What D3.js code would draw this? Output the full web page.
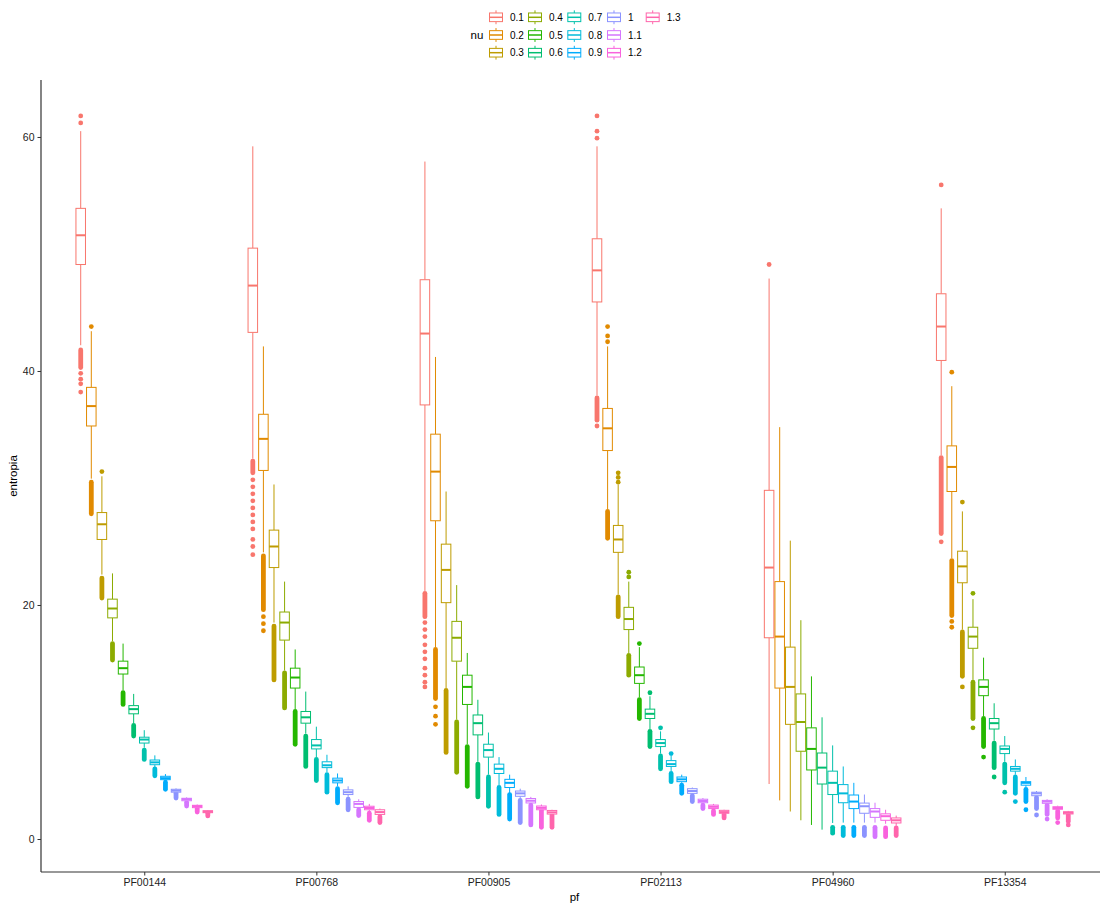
<!DOCTYPE html>
<html><head><meta charset="utf-8">
<script src="https://cdn.jsdelivr.net/npm/d3@7/dist/d3.min.js"></script>
<style>body{margin:0;background:#fff}svg{display:block;font-family:"Liberation Sans",Arial,Helvetica,sans-serif}</style>
</head><body><svg id="c" width="1100" height="905"></svg>
<script>
// ---- data ----
const pfs = ["PF00144","PF00768","PF00905","PF02113","PF04960","PF13354"];
const nus = ["0.1","0.2","0.3","0.4","0.5","0.6","0.7","0.8","0.9","1","1.1","1.2","1.3"];
const nuColors = ["#F8766D","#E18A00","#BE9C00","#8CAB00","#24B700","#00BE70","#00C1AB","#00BBDA","#00ACFC","#8B93FF","#D575FE","#F962DD","#FF65AC"];
const yTicks = [0,20,40,60];

// stats per nu: [lower whisker, q1, median, q3, upper whisker]
// outliers per nu: single values, or [a,b] = dense run of overlapping dots
const PF00144_stats = [[42.2,49.1,51.6,53.9,60.5],[30.8,35.3,37.0,38.6,43.4],[22.6,25.6,26.9,27.9,31.0],[16.9,18.9,19.7,20.5,22.7],[12.7,14.1,14.6,15.2,16.7],[9.9,10.7,11.1,11.4,12.4],[7.8,8.2,8.5,8.7,9.3],[6.1,6.35,6.55,6.75,7.15],[4.95,5.07,5.2,5.36,5.55],[3.95,4.0,4.13,4.25,4.33],[3.22,3.27,3.4,3.48,3.56],[2.65,2.68,2.8,2.88,2.95],[2.22,2.25,2.33,2.42,2.48]];
const PF00144_out = [[[40.3,41.8],39.8,39.3,38.9,38.2,61.2,61.8],[[27.8,30.5],43.8],[[20.6,22.3],31.4],[[15.3,16.7]],[[11.5,12.5]],[[8.8,9.7]],[[6.8,7.6]],[[5.4,6.0]],[[4.25,4.85]],[[3.5,3.9]],[[2.82,3.15]],[[2.3,2.6]],[[1.97,2.2]]];

const PF00768_stats = [[32.5,43.3,47.3,50.5,59.2],[24.5,31.5,34.2,36.3,42.1],[18.5,23.2,25.0,26.4,30.3],[14.4,17.0,18.5,19.4,22.0],[11.1,12.9,13.8,14.6,16.2],[9.0,9.9,10.4,10.9,12.6],[7.0,7.7,8.0,8.5,9.6],[5.7,6.1,6.3,6.6,7.2],[4.5,4.8,5.0,5.2,5.6],[3.6,3.8,4.0,4.2,4.5],[2.6,2.7,3.0,3.2,3.4],[2.3,2.5,2.65,2.8,3.0],[2.0,2.1,2.3,2.5,2.6]];
const PF00768_out = [[[31.3,32.3],30.7,30.1,29.5,28.9,28.3,27.7,27.1,26.5,25.6,25.0,24.3],[[19.6,24.2],19.0,18.4,17.8],[[13.6,18.2]],[[11.2,14.2]],[[8.1,10.9]],[[6.2,8.8]],[[5.0,6.8]],[[4.0,5.5]],[[3.1,4.3]],[[2.5,3.4]],[[2.0,2.5]],[[1.6,2.2]],[[1.4,1.9]]];

const PF00905_stats = [[21.2,37.1,43.2,47.8,57.9],[16.4,27.2,31.4,34.6,41.2],[12.9,20.2,23.0,25.2,29.7],[10.2,15.2,17.2,18.6,21.7],[8.1,11.5,13.0,14.0,15.9],[6.6,8.9,9.9,10.6,11.9],[5.5,7.0,7.6,8.1,9.1],[4.6,5.6,6.0,6.4,7.0],[3.9,4.4,4.8,5.1,5.5],[3.4,3.65,3.9,4.1,4.3],[3.0,3.08,3.27,3.46,3.6],[2.5,2.5,2.66,2.82,2.95],[2.1,2.13,2.28,2.44,2.5]];
const PF00905_out = [[[19.0,21.0],18.5,17.9,17.3,16.6,16.0,15.4,14.6,14.0,13.4,13.0],[[12.0,16.2],11.3,10.5,9.8],[[7.4,12.7]],[[5.7,10.0]],[[4.5,7.9]],[[3.6,6.4]],[[2.8,5.3]],[[2.1,4.4]],[[1.7,3.8]],[[1.4,3.3]],[[1.2,2.9]],[[1.0,2.45]],[[1.0,2.05]]];

const PF02113_stats = [[37.9,45.9,48.6,51.3,59.2],[28.2,33.2,35.1,36.8,42.1],[20.9,24.5,25.6,26.8,30.3],[15.9,17.9,18.8,19.8,22.0],[12.1,13.3,14.0,14.7,16.4],[9.4,10.3,10.7,11.1,12.2],[7.3,7.9,8.2,8.5,9.2],[5.8,6.2,6.4,6.7,7.1],[4.8,4.9,5.1,5.3,5.5],[3.8,3.9,4.1,4.3,4.4],[3.0,3.1,3.25,3.4,3.5],[2.5,2.6,2.75,2.9,3.0],[2.15,2.2,2.3,2.45,2.5]];
const PF02113_out = [[[35.8,37.7],35.3,59.9,60.5,61.8],[[25.7,28.0],42.5,43.0,43.8],[[19.0,20.7],30.5,30.9,31.3],[[14.0,15.7],22.4,22.8],[[10.3,11.9],16.7],[[7.9,9.2],12.5],[[6.0,7.1],9.5],[[4.9,5.6],7.3],[[3.9,4.6]],[[3.2,3.7]],[[2.6,2.9]],[[2.1,2.4]],[[1.8,2.1]]];

const PF04960_stats = [[4.7,17.2,23.2,29.8,47.9],[3.3,12.9,17.3,22.0,35.2],[2.35,9.8,13.0,16.4,25.5],[1.6,7.5,10.0,12.4,18.7],[1.2,5.9,7.7,9.5,13.9],[0.8,4.7,6.1,7.35,10.4],[1.37,3.8,4.8,5.8,8.0],[1.4,3.1,3.9,4.65,6.2],[1.4,2.6,3.2,3.76,4.8],[1.4,2.2,2.8,3.07,3.8],[1.4,1.85,2.35,2.6,3.1],[1.3,1.6,1.95,2.15,2.5],[1.13,1.37,1.6,1.8,2.0]];
const PF04960_out = [[49.1],[],[],[],[],[],[[0.5,1.0]],[[0.3,1.0]],[[0.3,1.0]],[[0.3,1.0]],[[0.2,1.0]],[[0.2,0.95]],[[0.3,0.95]]];

const PF13354_stats = [[32.8,40.9,43.8,46.6,53.9],[24.0,29.7,31.8,33.6,38.7],[17.9,21.9,23.3,24.6,28.0],[13.6,16.3,17.3,18.1,20.5],[10.5,12.25,13.0,13.6,15.5],[8.4,9.4,9.9,10.3,11.6],[6.6,7.3,7.7,7.95,8.8],[5.5,5.8,6.0,6.2,6.8],[4.4,4.6,4.8,4.9,5.3],[3.6,3.7,3.9,4.0,4.1],[3.0,3.05,3.2,3.3,3.4],[2.5,2.54,2.65,2.76,2.85],[2.1,2.14,2.24,2.33,2.4]];
const PF13354_out = [[[26.1,32.6],25.4,55.9],[[19.1,23.8],18.6,18.1,39.9],[[13.9,17.7],13.0,28.8],[[10.3,13.4],9.5,21.0],[[7.9,10.3],7.0],[[6.1,8.2],5.3],[[4.8,6.4],4.0],[[3.9,5.3],3.2],[[3.2,4.25],2.5],[[2.6,3.55],2.05],[[2.1,2.9],1.7],[[1.8,2.4],1.4],[[1.5,2.05],1.2]];

const allStats = [PF00144_stats,PF00768_stats,PF00905_stats,PF02113_stats,PF04960_stats,PF13354_stats];
const allOut = [PF00144_out,PF00768_out,PF00905_out,PF02113_out,PF04960_out,PF13354_out];

// ---- layout ----
const svg = d3.select("#c");
const L = 41, R = 1108, T = 80, B = 872;
const x = d3.scalePoint().domain(pfs).range([L, R]).padding(0.6);
const y = d3.scaleLinear().domain([-2.82, 64.87]).range([B, T]);
const dodgeW = x.step() * 0.8;
const xd = d3.scaleBand().domain(nus).range([-dodgeW/2, dodgeW/2]).padding(0);
const color = d3.scaleOrdinal().domain(nus).range(nuColors);
const boxW = xd.bandwidth() * 0.9;
const lw = 1;

const rows = [];
pfs.forEach((p, gi) => nus.forEach((n, ni) => {
  const s = allStats[gi][ni];
  rows.push({pf: p, nu: n, lo: s[0], q1: s[1], med: s[2], q3: s[3], hi: s[4], out: allOut[gi][ni]});
}));

const plot = svg.append("g");
rows.forEach(d => {
  const cx = x(d.pf) + xd(d.nu) + xd.bandwidth()/2;
  const c = color(d.nu);
  const g = plot.append("g");
  // outliers
  d.out.forEach(o => {
    if (Array.isArray(o)) {
      g.append("line").attr("x1", cx).attr("x2", cx).attr("y1", y(o[0])).attr("y2", y(o[1]))
        .attr("stroke", c).attr("stroke-width", 4.8).attr("stroke-linecap", "round");
    } else {
      g.append("circle").attr("cx", cx).attr("cy", y(o)).attr("r", 2.4).attr("fill", c);
    }
  });
  // whiskers
  g.append("line").attr("x1", cx).attr("x2", cx).attr("y1", y(d.hi)).attr("y2", y(d.q3)).attr("stroke", c).attr("stroke-width", lw);
  g.append("line").attr("x1", cx).attr("x2", cx).attr("y1", y(d.q1)).attr("y2", y(d.lo)).attr("stroke", c).attr("stroke-width", lw);
  // box
  g.append("rect").attr("x", cx - boxW/2).attr("width", boxW).attr("y", y(d.q3)).attr("height", y(d.q1) - y(d.q3))
    .attr("fill", "#fff").attr("stroke", c).attr("stroke-width", lw);
  g.append("line").attr("x1", cx - boxW/2).attr("x2", cx + boxW/2).attr("y1", y(d.med)).attr("y2", y(d.med))
    .attr("stroke", c).attr("stroke-width", 2);
});

// axes
const yAxis = d3.axisLeft(y).tickValues(yTicks).tickSize(3.5).tickPadding(3);
const gy = svg.append("g").attr("transform", `translate(${L},0)`).call(yAxis);
gy.select(".domain").remove();
svg.append("line").attr("x1", L).attr("x2", L).attr("y1", T).attr("y2", B).attr("stroke", "#333").attr("stroke-width", 1.2);
const xAxis = d3.axisBottom(x).tickSize(3.5).tickPadding(3);
const gx = svg.append("g").attr("transform", `translate(0,${B})`).call(xAxis);
gx.select(".domain").remove();
svg.append("line").attr("x1", L).attr("x2", R).attr("y1", B).attr("y2", B).attr("stroke", "#333").attr("stroke-width", 1.2);
svg.selectAll(".tick text").attr("font-size", 10.5).attr("fill", "#222").attr("font-family", '"Liberation Sans",Arial,sans-serif');
svg.selectAll(".tick line").attr("stroke", "#333");

svg.append("text").attr("x", (L + R)/2 - 0).attr("y", 901).attr("text-anchor", "middle").attr("font-size", 11.5).text("pf");
svg.append("text").attr("transform", `translate(17,${(T + B)/2}) rotate(-90)`).attr("text-anchor", "middle").attr("font-size", 11.5).text("entropia");

// legend (filled by column, 3 rows)
const leg = svg.append("g");
const keyS = 17.3;
const colX = [496, 535, 574.3, 614, 652.7];
const rowY = [17.3, 35, 52.7];
leg.append("text").attr("x", 470.5).attr("y", 35).attr("dy", "0.35em").attr("font-size", 11.5).text("nu");
nus.forEach((n, i) => {
  const cx = colX[Math.floor(i/3)], cy = rowY[i % 3];
  const c = color(n);
  const kg = leg.append("g").attr("transform", `translate(${cx - keyS/2},${cy - keyS/2})`);
  kg.append("line").attr("x1", keyS/2).attr("x2", keyS/2).attr("y1", keyS*0.1).attr("y2", keyS*0.25).attr("stroke", c);
  kg.append("line").attr("x1", keyS/2).attr("x2", keyS/2).attr("y1", keyS*0.75).attr("y2", keyS*0.9).attr("stroke", c);
  kg.append("rect").attr("x", keyS*0.125).attr("y", keyS*0.25).attr("width", keyS*0.75).attr("height", keyS*0.5)
    .attr("fill", "#fff").attr("stroke", c);
  kg.append("line").attr("x1", keyS*0.125).attr("x2", keyS*0.875).attr("y1", keyS/2).attr("y2", keyS/2).attr("stroke", c).attr("stroke-width", 1.5);
  leg.append("text").attr("x", cx + 14).attr("y", cy).attr("dy", "0.35em").attr("font-size", 10).text(n);
});
</script></body></html>
